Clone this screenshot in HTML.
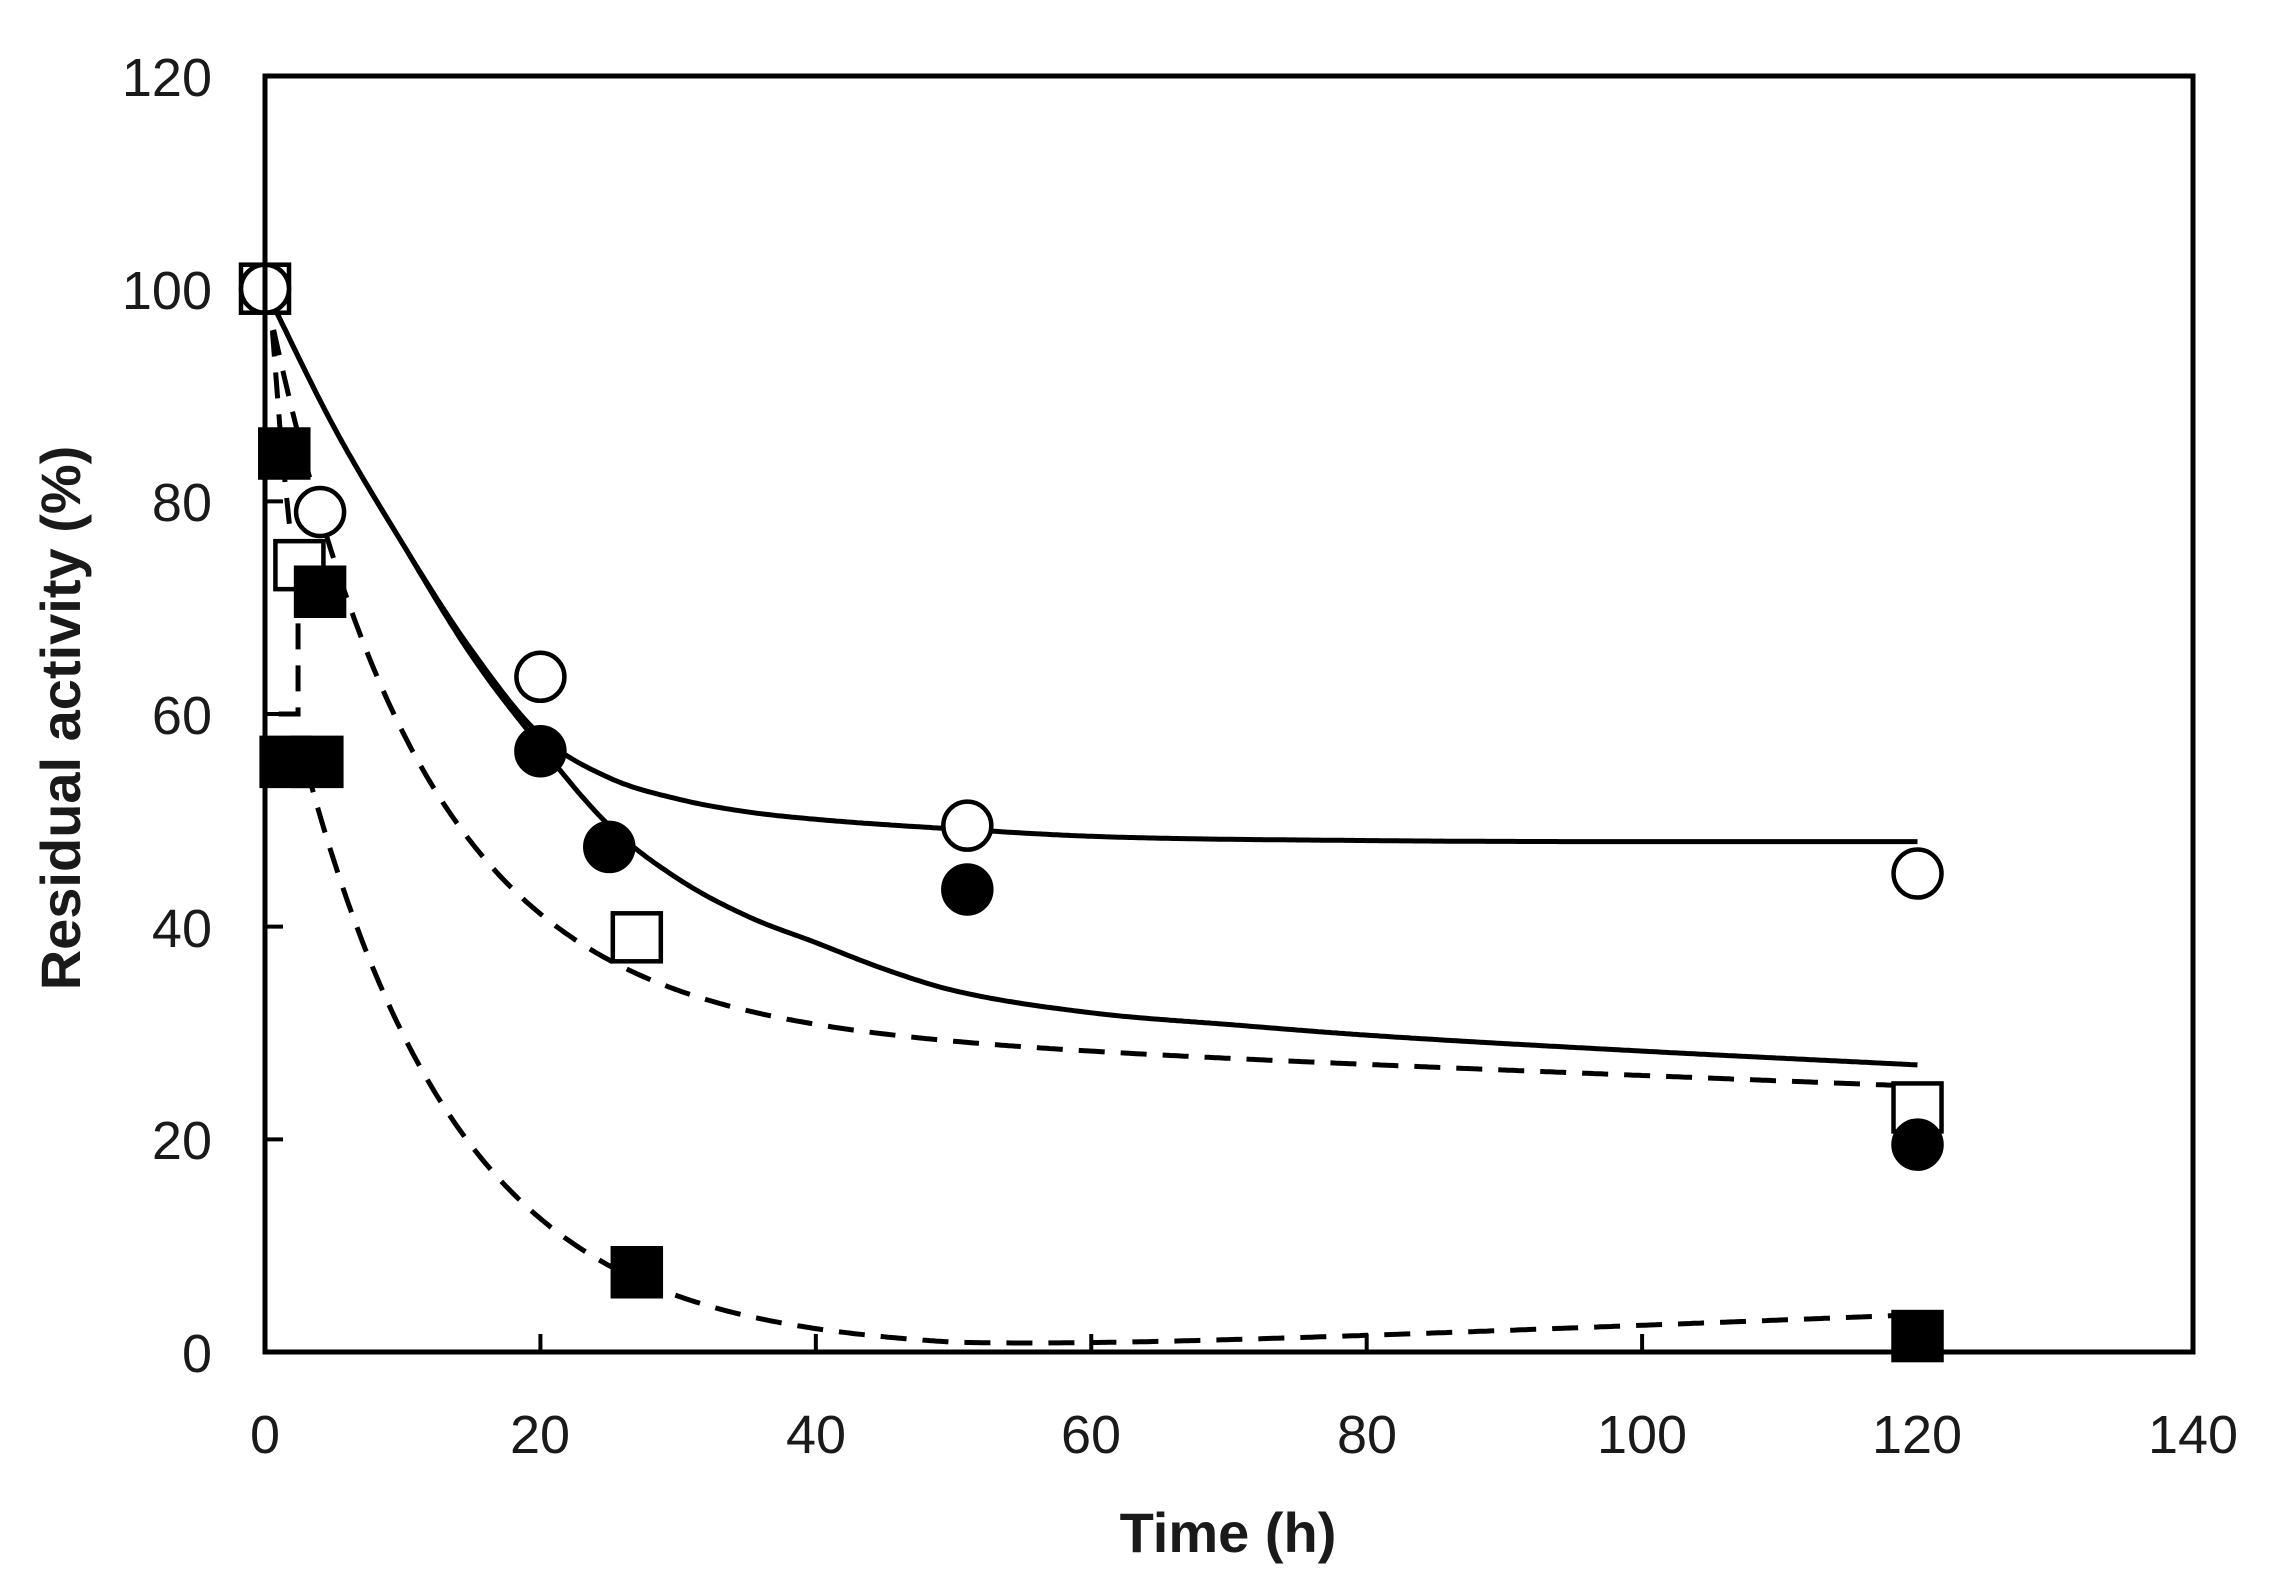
<!DOCTYPE html>
<html><head><meta charset="utf-8"><style>
html,body{margin:0;padding:0;background:#fff;}
svg{display:block;}
text{font-family:"Liberation Sans",sans-serif;fill:#1a1a1a;}
</style></head><body>
<svg id="s" width="2296" height="1586" viewBox="0 0 2296 1586" xmlns="http://www.w3.org/2000/svg">
<rect width="2296" height="1586" fill="#fff"/>
<g id="ticks" stroke="#000" stroke-width="4"></g>
<g id="curves" fill="none" stroke="#000" stroke-width="5"></g>
<g id="marks" stroke="#000" stroke-width="4.5"></g>
<rect x="265" y="76" width="1928" height="1276" fill="none" stroke="#000" stroke-width="5"/>
<g font-size="54" text-anchor="end">
<text x="212" y="96">120</text>
<text x="212" y="309">100</text>
<text x="212" y="521">80</text>
<text x="212" y="734">60</text>
<text x="212" y="947">40</text>
<text x="212" y="1159">20</text>
<text x="212" y="1372">0</text>
</g>
<g font-size="54" text-anchor="middle">
<text x="265" y="1453">0</text>
<text x="540" y="1453">20</text>
<text x="816" y="1453">40</text>
<text x="1091" y="1453">60</text>
<text x="1367" y="1453">80</text>
<text x="1642" y="1453">100</text>
<text x="1917" y="1453">120</text>
<text x="2193" y="1453">140</text>
</g>
<text x="1228" y="1552" font-size="56" font-weight="bold" text-anchor="middle">Time (h)</text>
<text transform="translate(80,718) rotate(-90)" font-size="56" font-weight="bold" text-anchor="middle">Residual activity (%)</text>
</svg>
<script>
const X=t=>265+t*13.771, Y=v=>1352-v*10.633;
const ns="http://www.w3.org/2000/svg";
function el(g,tag,a){const e=document.createElementNS(ns,tag);for(const k in a)e.setAttribute(k,a[k]);document.getElementById(g).appendChild(e);return e;}
for(let t=20;t<=120;t+=20) el('ticks','line',{x1:X(t),x2:X(t),y1:1352,y2:1334});
for(let v=20;v<=100;v+=20) el('ticks','line',{x1:265,x2:283,y1:Y(v),y2:Y(v)});
function curve(f,a,b,dash){let d='';for(let t=a;t<=b+1e-9;t+=0.25){d+=(d?'L':'M')+X(t).toFixed(1)+' '+Y(f(t)).toFixed(1)+' ';}
 const p=el('curves','path',{d:d});if(dash)p.setAttribute('stroke-dasharray','26 16');}
// monotone cubic (Fritsch-Carlson) in data space
function mono(pts){const n=pts.length,x=pts.map(p=>p[0]),y=pts.map(p=>p[1]);const dl=[],m=[];
 for(let i=0;i<n-1;i++)dl.push((y[i+1]-y[i])/(x[i+1]-x[i]));
 m[0]=dl[0];m[n-1]=dl[n-2];for(let i=1;i<n-1;i++)m[i]=dl[i-1]*dl[i]<=0?0:(dl[i-1]+dl[i])/2;
 for(let i=0;i<n-1;i++){if(dl[i]===0){m[i]=m[i+1]=0;continue;}const a=m[i]/dl[i],b=m[i+1]/dl[i],s=a*a+b*b;if(s>9){const t=3/Math.sqrt(s);m[i]=t*a*dl[i];m[i+1]=t*b*dl[i];}}
 return t=>{let i=0;while(i<n-2&&t>x[i+1])i++;const h=x[i+1]-x[i],s=(t-x[i])/h;
  const h00=2*s*s*s-3*s*s+1,h10=s*s*s-2*s*s+s,h01=-2*s*s*s+3*s*s,h11=s*s*s-s*s;
  return h00*y[i]+h10*h*m[i]+h01*y[i+1]+h11*h*m[i+1];};}
curve(mono([[0,100],[5,87],[10,76],[15,66],[20,58],[25,54],[30,52],[35,50.8],[40,50.1],[45,49.6],[50,49.2],[60,48.5],[80,48.1],[100,48],[120,48]]),0,120);
curve(mono([[0,100],[5,87],[10,76],[15,65.5],[20,57],[25,49.5],[30,44.5],[35,41],[40,38.5],[45,36],[50,34],[60,31.9],[70,30.8],[80,29.8],[100,28.3],[120,27]]),0,120);
curve(t=>25+6*(1-t/120)+69*Math.exp(-t/11),0,120,true);
curve(t=>55*Math.exp(-(t-3)/11.5)+Math.max(0,t-50)*3.5/70,3,120,true);
el('curves','path',{d:`M${X(0.3)} ${Y(100)} L${X(1.2)} ${Y(85)} L${X(2.4)} ${Y(70)} L${X(2.4)} ${Y(60)} L${X(0)} ${Y(60)}`,'stroke-dasharray':'26 16'});
function sq(t,v,fill){el('marks','rect',{x:X(t)-24,y:Y(v)-24,width:48,height:48,fill:fill});}
function ci(t,v,fill){el('marks','circle',{cx:X(t),cy:Y(v),r:24,fill:fill});}
sq(0,100,'#fff');
sq(2.5,74,'#fff');sq(27,39,'#fff');sq(120,23,'#fff');
ci(20,56.5,'#000');ci(25,47.5,'#000');ci(51,43.5,'#000');ci(120,19.5,'#000');
sq(1.4,84.5,'#000');sq(4,71.5,'#000');sq(1.5,55.5,'#000');sq(3.8,55.5,'#000');sq(27,7.5,'#000');sq(120,1.5,'#000');
ci(0,100,'#fff');ci(4,79,'#fff');ci(20,63.5,'#fff');ci(51,49.5,'#fff');ci(120,45,'#fff');
</script>
</body></html>
